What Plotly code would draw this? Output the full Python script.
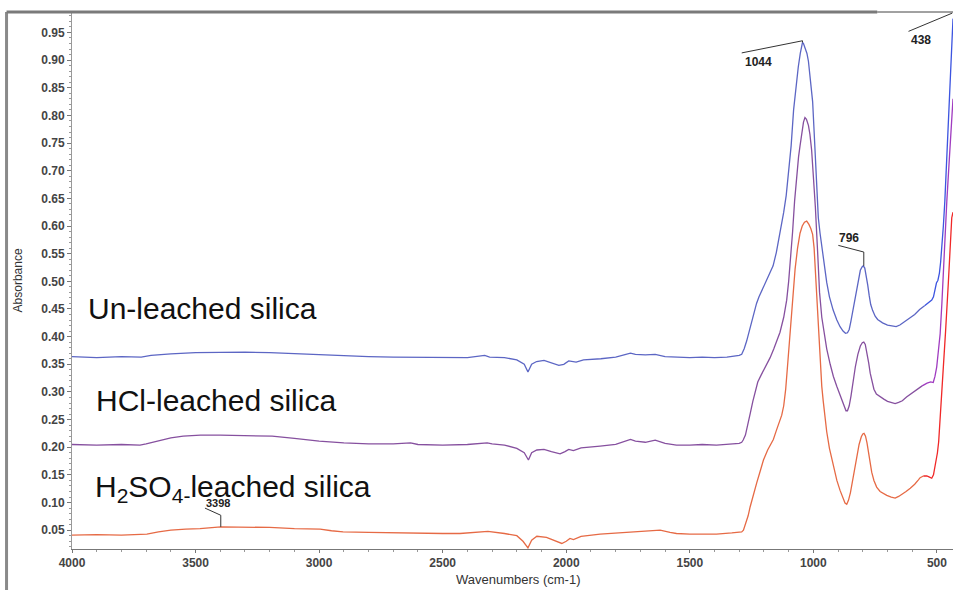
import numpy as np
import plotly.graph_objects as go

# FTIR absorbance spectra of silica samples (wavenumber in cm-1, absorbance)
unleached_wn = [4000, 3900, 3800, 3720, 3680, 3600, 3500, 3400, 3300, 3200, 3100, 3000, 2900,
                2800, 2700, 2600, 2500, 2400, 2330, 2310, 2250, 2200, 2170, 2155, 2140, 2120,
                2090, 2060, 2030, 2010, 1990, 1960, 1930, 1860, 1800, 1740, 1720, 1680, 1640,
                1600, 1550, 1500, 1450, 1400, 1350, 1300, 1290, 1280, 1270, 1260, 1250, 1240,
                1230, 1220, 1205, 1190, 1175, 1163, 1150, 1135, 1120, 1110, 1100, 1090, 1080,
                1070, 1061, 1053, 1047, 1044, 1040, 1033, 1026, 1020, 1014, 1009, 1003, 998,
                993, 987, 980, 973, 965, 955, 946, 935, 920, 905, 892, 880, 870, 862, 855, 848,
                840, 832, 825, 818, 810, 803, 798, 792, 786, 780, 774, 768, 760, 750, 740, 720,
                700, 680, 665, 650, 630, 610, 590, 570, 550, 535, 521, 514, 508, 502, 496, 490,
                485, 480, 474, 468, 461, 454, 447, 440, 435]
unleached_abs = [0.364, 0.362, 0.364, 0.363, 0.366, 0.369, 0.371, 0.372, 0.372, 0.371, 0.369,
                 0.367, 0.365, 0.364, 0.363, 0.363, 0.362, 0.362, 0.366, 0.363, 0.362, 0.358,
                 0.350, 0.336, 0.350, 0.355, 0.357, 0.352, 0.348, 0.350, 0.356, 0.354, 0.358,
                 0.360, 0.363, 0.370, 0.368, 0.367, 0.368, 0.364, 0.363, 0.362, 0.363, 0.362,
                 0.363, 0.366, 0.368, 0.378, 0.392, 0.410, 0.428, 0.445, 0.460, 0.472, 0.486,
                 0.500, 0.515, 0.528, 0.552, 0.587, 0.625, 0.655, 0.695, 0.745, 0.810, 0.855,
                 0.888, 0.912, 0.927, 0.932, 0.930, 0.922, 0.912, 0.898, 0.875, 0.855, 0.825,
                 0.780, 0.730, 0.660, 0.615, 0.587, 0.560, 0.525, 0.498, 0.472, 0.448, 0.430,
                 0.418, 0.410, 0.406, 0.407, 0.413, 0.428, 0.448, 0.472, 0.490, 0.507, 0.520,
                 0.526, 0.528, 0.524, 0.510, 0.493, 0.474, 0.458, 0.447, 0.437, 0.431, 0.425,
                 0.421, 0.419, 0.418, 0.421, 0.427, 0.433, 0.440, 0.449, 0.456, 0.461, 0.466,
                 0.472, 0.486, 0.497, 0.502, 0.515, 0.535, 0.560, 0.600, 0.645, 0.720, 0.797,
                 0.870, 0.945, 0.975]

hcl_wn = [4000, 3900, 3800, 3725, 3700, 3650, 3600, 3550, 3480, 3400, 3300, 3190, 3100, 3000,
          2900, 2800, 2700, 2630, 2600, 2500, 2400, 2320, 2300, 2250, 2200, 2170, 2153, 2140,
          2119, 2090, 2060, 2025, 2005, 1990, 1971, 1940, 1863, 1800, 1740, 1720, 1680, 1640,
          1600, 1554, 1500, 1450, 1392, 1340, 1300, 1290, 1284, 1275, 1265, 1255, 1245, 1235,
          1225, 1212, 1200, 1189, 1175, 1160, 1145, 1135, 1120, 1108, 1100, 1092, 1084, 1076,
          1068, 1060, 1054, 1047, 1040, 1034, 1028, 1020, 1014, 1007, 1000, 992, 983, 975, 966,
          955, 946, 932, 919, 905, 892, 878, 868, 862, 855, 848, 840, 830, 820, 810, 802, 796,
          790, 783, 776, 770, 764, 755, 745, 731, 715, 700, 685, 669, 655, 640, 623, 600, 580,
          560, 540, 525, 515, 508, 501, 494, 487, 480, 474, 467, 460, 450, 442, 435]
hcl_abs = [0.205, 0.204, 0.205, 0.204, 0.206, 0.212, 0.217, 0.220, 0.222, 0.222, 0.221, 0.220,
           0.216, 0.211, 0.208, 0.206, 0.206, 0.208, 0.205, 0.204, 0.205, 0.208, 0.206, 0.204,
           0.198, 0.190, 0.177, 0.190, 0.195, 0.196, 0.192, 0.188, 0.192, 0.196, 0.194, 0.199,
           0.202, 0.205, 0.214, 0.211, 0.209, 0.213, 0.207, 0.204, 0.204, 0.205, 0.204, 0.205,
           0.207, 0.209, 0.213, 0.222, 0.240, 0.262, 0.283, 0.303, 0.318, 0.330, 0.340, 0.348,
           0.362, 0.378, 0.395, 0.408, 0.435, 0.466, 0.500, 0.540, 0.590, 0.645, 0.690, 0.725,
           0.745, 0.768, 0.788, 0.796, 0.793, 0.782, 0.766, 0.737, 0.690, 0.635, 0.555, 0.480,
           0.435, 0.400, 0.378, 0.350, 0.328, 0.310, 0.295, 0.278, 0.266, 0.266, 0.275, 0.292,
           0.318, 0.346, 0.368, 0.383, 0.389, 0.390, 0.386, 0.372, 0.352, 0.334, 0.321, 0.305,
           0.296, 0.291, 0.287, 0.283, 0.281, 0.279, 0.281, 0.284, 0.291, 0.298, 0.305, 0.311,
           0.316, 0.318, 0.317, 0.328, 0.345, 0.375, 0.405, 0.460, 0.525, 0.590, 0.645, 0.720,
           0.790, 0.830]

h2so4_wn = [4000, 3900, 3800, 3720, 3697, 3650, 3600, 3540, 3482, 3398, 3300, 3200, 3100, 2996,
            2950, 2903, 2800, 2700, 2565, 2500, 2430, 2350, 2317, 2250, 2200, 2175, 2155, 2140,
            2119, 2080, 2050, 2018, 2000, 1985, 1971, 1940, 1863, 1800, 1700, 1650, 1620, 1580,
            1554, 1500, 1392, 1330, 1300, 1290, 1283, 1275, 1264, 1256, 1245, 1235, 1229, 1215,
            1202, 1185, 1170, 1162, 1150, 1138, 1128, 1120, 1112, 1104, 1095, 1085, 1074, 1064,
            1054, 1045, 1036, 1027, 1018, 1010, 1003, 997, 992, 987, 980, 973, 966, 960, 953,
            946, 935, 919, 905, 892, 880, 872, 865, 858, 850, 843, 835, 825, 815, 806, 800, 795,
            789, 783, 777, 770, 764, 755, 744, 730, 715, 703, 685, 669, 655, 640, 625, 608, 590,
            575, 568, 555, 541, 530, 521, 514, 508, 503, 498, 493, 490, 487, 484, 479, 474, 465,
            454, 447, 440, 435]
h2so4_abs = [0.041, 0.042, 0.041, 0.042, 0.043, 0.047, 0.050, 0.052, 0.053, 0.056, 0.056, 0.055,
             0.053, 0.052, 0.049, 0.047, 0.046, 0.045, 0.044, 0.044, 0.044, 0.046, 0.048, 0.044,
             0.040, 0.030, 0.018, 0.032, 0.039, 0.037, 0.031, 0.026, 0.030, 0.035, 0.033, 0.039,
             0.043, 0.045, 0.047, 0.049, 0.050, 0.046, 0.044, 0.043, 0.043, 0.045, 0.046, 0.047,
             0.050, 0.060, 0.076, 0.092, 0.112, 0.128, 0.136, 0.157, 0.177, 0.195, 0.207, 0.214,
             0.230, 0.245, 0.258, 0.275, 0.305, 0.350, 0.405, 0.465, 0.522, 0.560, 0.587, 0.600,
             0.607, 0.609, 0.603, 0.595, 0.585, 0.560, 0.520, 0.466, 0.400, 0.345, 0.310, 0.283,
             0.252, 0.228, 0.198, 0.165, 0.140, 0.122, 0.107, 0.099, 0.097, 0.104, 0.118, 0.135,
             0.158, 0.185, 0.205, 0.219, 0.224, 0.225, 0.220, 0.208, 0.190, 0.168, 0.155, 0.140,
             0.128, 0.120, 0.116, 0.113, 0.110, 0.108, 0.111, 0.115, 0.120, 0.126, 0.133, 0.141,
             0.145, 0.148, 0.148, 0.146, 0.144, 0.150, 0.164, 0.176, 0.190, 0.210, 0.230, 0.260,
             0.290, 0.320, 0.345, 0.410, 0.496, 0.560, 0.615, 0.625]

# labelled peak positions
peak_labels = ["1044", "796", "438", "3398"]

series = [
    (unleached_wn, unleached_abs, "#5c66c4", "#3d55e0", "Un-leached silica"),
    (hcl_wn, hcl_abs, "#86509f", "#a03cc0", "HCl-leached silica"),
    (h2so4_wn, h2so4_abs, "#e66a45", "#f02828", "H2SO4-leached silica"),
]

fig = go.Figure()
split = 545
for wn, ab, col, tail_col, name in series:
    wn = np.array(wn, dtype=float)
    ab = np.array(ab, dtype=float)
    cut = int(np.sum(wn >= split))  # points in the main body
    fig.add_trace(go.Scatter(x=wn[:cut], y=ab[:cut], mode="lines", name=name,
                             line=dict(color=col, width=1.3), showlegend=False))
    fig.add_trace(go.Scatter(x=wn[cut - 1:], y=ab[cut - 1:], mode="lines", name=name,
                             line=dict(color=tail_col, width=1.3), showlegend=False))

txt = dict(family="Liberation Sans, Arial, sans-serif", color="#111111")

# sample names
fig.add_annotation(x=3945, y=0.450, text="Un-leached silica", showarrow=False,
                   xanchor="left", yanchor="middle", font=dict(size=30, **txt))
fig.add_annotation(x=3910, y=0.285, text="HCl-leached silica", showarrow=False,
                   xanchor="left", yanchor="middle", font=dict(size=30, **txt))
fig.add_annotation(x=3915, y=0.126, text="H<sub>2</sub>SO<sub>4-</sub>leached silica",
                   showarrow=False, xanchor="left", yanchor="middle", font=dict(size=30, **txt))

# peak markers: label text plus leader lines
peak_font = dict(family="Liberation Sans, Arial, sans-serif", size=12, color="#222222",
                 weight="bold")
leader = dict(color="#333333", width=1)
# 1044
fig.add_annotation(x=1224, y=0.897, text=peak_labels[0], showarrow=False, font=peak_font)
fig.add_shape(type="line", x0=1290, y0=0.913, x1=1044, y1=0.935, line=leader)
fig.add_shape(type="line", x0=1044, y0=0.935, x1=1044, y1=0.932, line=leader)
# 796
fig.add_annotation(x=855, y=0.578, text=peak_labels[1], showarrow=False, font=peak_font)
fig.add_shape(type="line", x0=899, y0=0.565, x1=796, y1=0.553, line=leader)
fig.add_shape(type="line", x0=796, y0=0.553, x1=796, y1=0.528, line=leader)
# 438
fig.add_annotation(x=565, y=0.936, text=peak_labels[2], showarrow=False, font=peak_font)
fig.add_shape(type="line", x0=615, y0=0.952, x1=438, y1=0.985, line=leader)
# 3398
fig.add_annotation(x=3411, y=0.0985, text=peak_labels[3], showarrow=False,
                   font=dict(family="Liberation Sans, Arial, sans-serif", size=11,
                             color="#222222", weight="bold"))
fig.add_shape(type="line", x0=3462, y0=0.090, x1=3398, y1=0.077, line=leader)
fig.add_shape(type="line", x0=3398, y0=0.077, x1=3398, y1=0.056, line=leader)

# axis titles
fig.add_annotation(xref="paper", yref="paper", x=-0.0619, y=0.501, text="Absorbance",
                   textangle=-90, showarrow=False, xanchor="center", yanchor="middle",
                   font=dict(family="Liberation Sans, Arial, sans-serif", size=12,
                             color="#333333"))
fig.add_annotation(xref="paper", yref="paper", x=0.506, y=-0.0577, text="Wavenumbers (cm-1)",
                   showarrow=False, xanchor="center", yanchor="middle",
                   font=dict(family="Liberation Sans, Arial, sans-serif", size=13,
                             color="#333333"))

# outer frame lines (left and top)
fig.add_shape(type="line", xref="paper", yref="paper", x0=-0.0743, y0=1.0, x1=-0.0743,
              y1=-0.08, line=dict(color="#8a8a8a", width=3))
fig.add_shape(type="line", xref="paper", yref="paper", x0=-0.0743, y0=1.0, x1=0.914,
              y1=1.0, line=dict(color="#7a7a7a", width=3))
fig.add_shape(type="line", xref="paper", yref="paper", x0=0.914, y0=1.0, x1=1.0,
              y1=1.0, line=dict(color="#444444", width=1))

tick_font = dict(family="Liberation Sans, Arial, sans-serif", size=12, color="#444444",
                 weight="bold")
fig.update_xaxes(range=[4000, 435], tickmode="array",
                 tickvals=[4000, 3500, 3000, 2500, 2000, 1500, 1000, 500],
                 ticks="outside", ticklen=3, tickcolor="#777777",
                 minor=dict(dtick=100, ticks="outside", ticklen=2, tickcolor="#999999"),
                 showline=True, linecolor="#777777", linewidth=1, showgrid=False,
                 zeroline=False, tickfont=tick_font)
fig.update_yaxes(range=[0.016, 0.987], tickmode="array",
                 tickvals=[round(0.05 * i, 2) for i in range(1, 20)],
                 tickformat=".2f", ticks="outside", ticklen=4, tickcolor="#777777",
                 minor=dict(dtick=0.01, ticks="outside", ticklen=2, tickcolor="#999999"),
                 showline=True, linecolor="#999999", linewidth=1, showgrid=False,
                 zeroline=False, tickfont=tick_font)

fig.update_layout(width=953, height=590, margin=dict(l=72, r=0, t=12, b=41),
                  paper_bgcolor="white", plot_bgcolor="white")

fig.write_html("out.html")
